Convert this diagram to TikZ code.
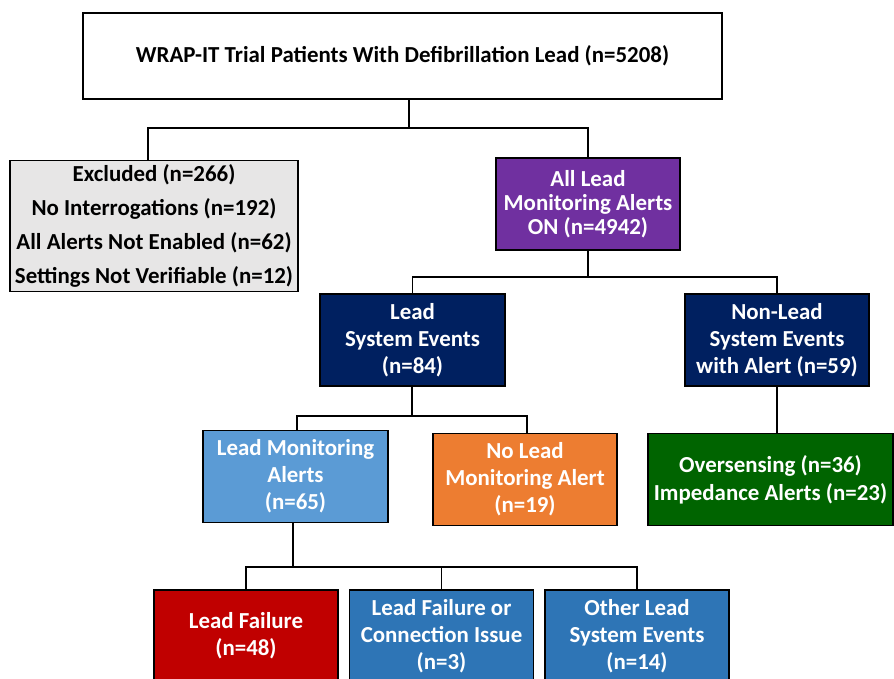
\documentclass[tikz,border=0pt]{standalone}
\usepackage{fontspec}
\setmainfont{Carlito}
\definecolor{cgray}{HTML}{E7E6E6}
\definecolor{cpurple}{HTML}{7030A0}
\definecolor{cnavy}{HTML}{002060}
\definecolor{clblue}{HTML}{5B9BD5}
\definecolor{corange}{HTML}{ED7D31}
\definecolor{cgreen}{HTML}{006400}
\definecolor{cred}{HTML}{C00000}
\definecolor{cblue}{HTML}{2E75B6}
\begin{document}
\begin{tikzpicture}[x=1pt,y=-1pt,
  bx/.style={draw=black, line width=1.3pt, rectangle, inner sep=0pt, align=center,
    font=\bfseries\fontsize{22.9}{27}\selectfont},
  wbx/.style={bx, text=white, minimum width=184pt, minimum height=92pt},
  conn/.style={draw=black, line width=1.6pt}]
\useasboundingbox (0,0) rectangle (894,678);
\clip (0,0) rectangle (894,678);
\fill[white] (0,0) rectangle (894,678);

\node[bx, minimum width=639pt, minimum height=86pt, fill=white] (top) at (402.5,56)
  {WRAP-IT Trial Patients With Defibrillation Lead (n=5208)};
\node[bx, minimum width=288pt, minimum height=131pt, fill=cgray,
  font=\bfseries\fontsize{22.9}{34}\selectfont] (exc) at (154,226)
  {Excluded (n=266)\\No Interrogations (n=192)\\All Alerts Not Enabled (n=62)\\Settings Not Verifiable (n=12)};
\node[wbx, fill=cpurple, font=\bfseries\fontsize{22.9}{24}\selectfont] (pur) at (588,204) {All Lead\\Monitoring Alerts\\ON (n=4942)};
\node[wbx, fill=cnavy, minimum width=185pt] (lse) at (412.5,340) {Lead\\System Events\\(n=84)};
\node[wbx, fill=cnavy] (nls) at (777,340) {Non-Lead\\System Events\\with Alert (n=59)};
\node[wbx, fill=clblue, minimum width=185pt] (lma) at (295.5,476.5) {Lead Monitoring\\Alerts\\(n=65)};
\node[wbx, fill=corange] (nlma) at (525,479.5) {No Lead\\Monitoring Alert\\(n=19)};
\node[wbx, fill=cgreen, minimum width=245pt, font=\bfseries\fontsize{22.9}{28}\selectfont] (ovs) at (770.5,479.5) {Oversensing (n=36)\\Impedance Alerts (n=23)};
\node[wbx, fill=cred] (lf) at (246,636) {Lead Failure\\(n=48)};
\node[wbx, fill=cblue] (lfc) at (441.5,636) {Lead Failure or\\Connection Issue\\(n=3)};
\node[wbx, fill=cblue] (olse) at (637,636) {Other Lead\\System Events\\(n=14)};

\coordinate (j1) at (409,128);
\coordinate (e1) at (148,128);
\draw[conn] (j1 |- top.south) -- (j1);
\draw[conn] (e1 |- exc.north) -- (e1) -- (j1 -| pur.north) -- (pur.north);

\coordinate (j2) at (588,277);
\draw[conn] (pur.south) -- (j2);
\draw[conn] (lse.north) -- (j2 -| lse.north) -- (j2 -| nls.north) -- (nls.north);

\coordinate (j3) at (412,416);
\coordinate (a3) at (297,416);
\coordinate (b3) at (527,416);
\draw[conn] (j3 |- lse.south) -- (j3);
\draw[conn] (a3 |- lma.north) -- (a3) -- (b3) -- (b3 |- nlma.north);

\draw[conn] (nls.south) -- (nls.south |- ovs.north);

\coordinate (j4) at (293,567);
\draw[conn] (j4 |- lma.south) -- (j4);
\draw[conn] (lf.north) -- (j4 -| lf.north) -- (j4 -| olse.north) -- (olse.north);
\draw[conn] (j4 -| lfc.north) -- (lfc.north);
\end{tikzpicture}
\end{document}
